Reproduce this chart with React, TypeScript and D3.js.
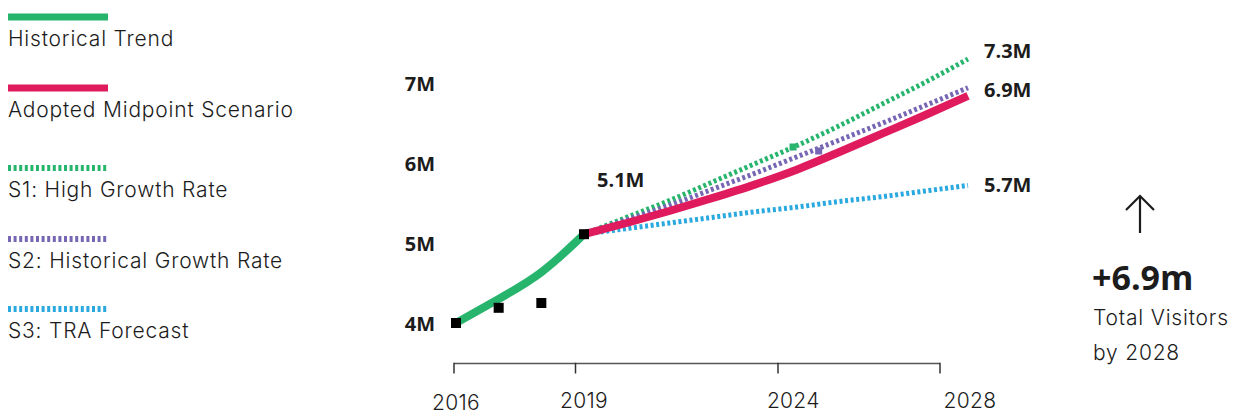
import React from "react";
import * as d3 from "d3";

const histYears = [2016, 2017, 2018, 2019];
const histTrend = [4.0, 4.3, 4.6, 5.11];
const histPoints = [4.0, 4.19, 4.25, 5.11];

const projYears = [2019, 2020, 2021, 2022, 2023, 2024, 2025, 2026, 2027, 2028];
const adopted = [5.11, 5.25, 5.4, 5.56, 5.73, 5.92, 6.14, 6.37, 6.6, 6.84];
const s1High = [5.11, 5.32, 5.53, 5.76, 5.99, 6.22, 6.47, 6.74, 7.01, 7.3];
const s2Hist = [5.11, 5.29, 5.47, 5.67, 5.87, 6.08, 6.29, 6.5, 6.72, 6.94];
const s3Tra = [5.11, 5.18, 5.25, 5.32, 5.39, 5.45, 5.52, 5.58, 5.65, 5.72];

const yTicks = [4, 5, 6, 7];
const yTickLabels = ["4M", "5M", "6M", "7M"];
const xTicks = [2016, 2019, 2024, 2028];

const endLabels = [
  { text: "7.3M", value: 7.3 },
  { text: "6.9M", value: 6.84 },
  { text: "5.7M", value: 5.72 },
];
const startLabel = { text: "5.1M", year: 2019, value: 5.11 };

const legendItems = [
  { label: "Historical Trend", color: "#27b56e", dashed: false },
  { label: "Adopted Midpoint Scenario", color: "#df1b5e", dashed: false },
  { label: "S1: High Growth Rate", color: "#27b56e", dashed: true },
  { label: "S2: Historical Growth Rate", color: "#7666b3", dashed: true },
  { label: "S3: TRA Forecast", color: "#2aa9e0", dashed: true },
];

const markers = [
  { year: 2023.9, value: 6.2, color: "#27b56e" },
  { year: 2024.5, value: 6.15, color: "#7666b3" },
];

const GREEN = "#27b56e";
const PINK = "#df1b5e";
const PURPLE = "#7666b3";
const BLUE = "#2aa9e0";
const TEXT = "#1c1c1c";

export default function App() {
  const W = 1233;
  const H = 414;
  const x = d3.scaleLinear().domain([2016, 2028]).range([456, 968]);
  const xAxis = d3.scaleLinear().domain([2016, 2028]).range([454, 940]);
  const y = d3.scaleLinear().domain([4, 7]).range([323, 83]);

  const curve = d3
    .line<[number, number]>()
    .x((d) => x(d[0]))
    .y((d) => y(d[1]))
    .curve(d3.curveMonotoneX);
  const histCurve = d3
    .line<[number, number]>()
    .x((d) => x(d[0]))
    .y((d) => y(d[1]))
    .curve(d3.curveBasis);

  const zip = (ys: number[], vs: number[]) => ys.map((yr, i) => [yr, vs[i]] as [number, number]);

  const font = "Inter, 'Open Sans', sans-serif";
  const boldFont = "'Open Sans', Inter, sans-serif";
  const axisY = 363.5;
  const dash = "3,2.6";

  return (
    <svg width={W} height={H} style={{ position: "absolute", left: 0, top: 0, background: "#fff" }}>
      {/* Legend */}
      {legendItems.map((it, i) => {
        const baseY = [17, 88, 168, 239, 309][i];
        return (
          <g key={it.label}>
            <line
              x1={8}
              x2={108}
              y1={baseY}
              y2={baseY}
              stroke={it.color}
              strokeWidth={it.dashed ? 6 : 7}
              strokeDasharray={it.dashed ? dash : undefined}
            />
            <text
              x={8}
              y={baseY + 29}
              fontFamily={font}
              fontWeight={300}
              fontSize={21}
              letterSpacing={0.8}
              fill={TEXT}
            >
              {it.label}
            </text>
          </g>
        );
      })}

      {/* Y tick labels */}
      {yTicks.map((t, i) => (
        <text
          key={t}
          x={435}
          y={y(t) + 8}
          textAnchor="end"
          fontFamily={boldFont}
          fontWeight={700}
          fontSize={20}
          fill={TEXT}
        >
          {yTickLabels[i]}
        </text>
      ))}

      {/* X axis */}
      <line x1={xAxis(2016)} x2={xAxis(2028)} y1={axisY} y2={axisY} stroke="#555" strokeWidth={1.5} />
      {xTicks.map((t) => (
        <line key={t} x1={xAxis(t)} x2={xAxis(t)} y1={axisY - 0.75} y2={axisY + 10} stroke="#333" strokeWidth={1.5} />
      ))}
      {xTicks.map((t, i) => (
        <text
          key={"l" + t}
          x={x(t) + (t === 2028 ? 2 : t === 2024 ? -4 : 0)}
          y={i === 0 ? 410 : 408}
          textAnchor="middle"
          fontFamily={font}
          fontWeight={300}
          fontSize={21}
          letterSpacing={0.3}
          fill={TEXT}
        >
          {t}
        </text>
      ))}

      {/* Scenario dashed lines */}
      <path d={curve(zip(projYears, s1High)) || ""} fill="none" stroke={GREEN} strokeWidth={5} strokeDasharray={dash} />
      <path d={curve(zip(projYears, s2Hist)) || ""} fill="none" stroke={PURPLE} strokeWidth={5} strokeDasharray={dash} />
      <path d={curve(zip(projYears, s3Tra)) || ""} fill="none" stroke={BLUE} strokeWidth={5} strokeDasharray={dash} />
      {markers.map((m, i) => (
        <rect key={i} x={x(m.year) - 3.5} y={y(m.value) - 3.5} width={7} height={7} fill={m.color} />
      ))}

      {/* Adopted */}
      <path d={curve(zip(projYears, adopted)) || ""} fill="none" stroke={PINK} strokeWidth={8} />

      {/* Historical */}
      <path d={histCurve(zip(histYears, histTrend)) || ""} fill="none" stroke={GREEN} strokeWidth={8} />
      {histYears.map((yr, i) => (
        <rect key={yr} x={x(yr) - 5} y={y(histPoints[i]) - 5} width={10} height={10} fill="#000" />
      ))}

      {/* Value labels */}
      <text
        x={x(startLabel.year) + 13}
        y={y(startLabel.value) - 47}
        fontFamily={boldFont}
        fontWeight={700}
        fontSize={20}
        fill={TEXT}
      >
        {startLabel.text}
      </text>
      {endLabels.map((l, i) => (
        <text
          key={l.text}
          x={x(2028) + 16}
          y={[58, 97, 192][i]}
          fontFamily={boldFont}
          fontWeight={700}
          fontSize={20}
          fill={TEXT}
        >
          {l.text}
        </text>
      ))}

      {/* Right summary */}
      <g stroke={TEXT} strokeWidth={2.2} fill="none">
        <line x1={1140} x2={1140} y1={196} y2={233} />
        <polyline points="1126,210 1140,196 1154,210" />
      </g>
      <text x={1092} y={290} fontFamily={boldFont} fontWeight={700} fontSize={34} fill={TEXT}>
        +6.9m
      </text>
      <text x={1093} y={325} fontFamily={font} fontWeight={300} fontSize={21} letterSpacing={0.8} fill={TEXT}>
        Total Visitors
      </text>
      <text x={1093} y={360} fontFamily={font} fontWeight={300} fontSize={21} letterSpacing={0.8} fill={TEXT}>
        by 2028
      </text>
    </svg>
  );
}
